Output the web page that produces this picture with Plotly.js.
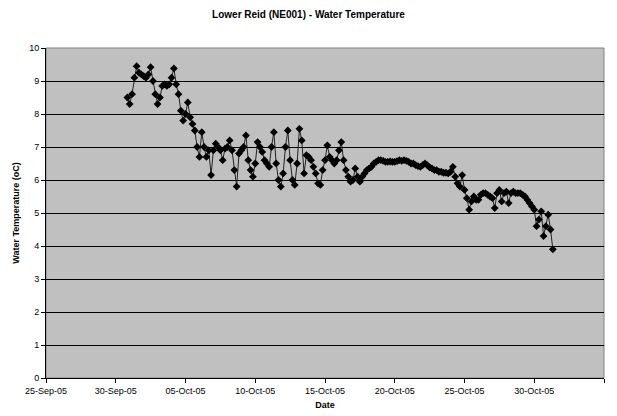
<!DOCTYPE html>
<html>
<head>
<meta charset="utf-8">
<script src="https://cdn.plot.ly/plotly-3.0.1.min.js"></script>
<style>html,body{margin:0;padding:0;background:#fff;}#chart{width:617px;height:416px;}</style>
</head>
<body>
<div id="chart"></div>
<script>
// Logger readings, 4-hourly, starting 30-Sep-05 20:00
var startTime = "2005-09-30T20:00:00Z";
var stepHours = 4;
var temperature = [
  8.5,
  8.3, 8.6, 9.1, 9.45, 9.25, 9.2,        // 1-Oct
  9.15, 9.1, 9.2, 9.42, 9.0, 8.6,        // 2-Oct
  8.3, 8.5, 8.85, 8.9, 8.85, 8.9,        // 3-Oct
  9.1, 9.38, 8.9, 8.6, 8.1, 7.8,         // 4-Oct
  8.0, 8.35, 7.9, 7.7, 7.5, 7.0,         // 5-Oct
  6.7, 7.45, 7.0, 6.7, 6.9, 6.15,        // 6-Oct
  6.9, 7.1, 7.0, 6.9, 6.6, 6.95,         // 7-Oct
  7.0, 7.2, 6.9, 6.3, 5.8, 6.8,          // 8-Oct
  6.9, 7.0, 7.35, 6.6, 6.3, 6.1,         // 9-Oct
  6.5, 7.15, 7.0, 6.85, 6.6, 6.5,        // 10-Oct
  6.4, 7.0, 7.45, 6.5, 6.0, 5.8,         // 11-Oct
  6.2, 7.0, 7.5, 6.6, 6.0, 5.85,         // 12-Oct
  6.5, 7.55, 7.2, 6.2, 6.75, 6.7,        // 13-Oct
  6.6, 6.4, 6.2, 5.9, 5.85, 6.3,         // 14-Oct
  6.6, 7.05, 6.7, 6.6, 6.5, 6.6,         // 15-Oct
  6.9, 7.15, 6.6, 6.3, 6.1, 5.95,        // 16-Oct
  6.0, 6.35, 6.1, 5.95, 6.1, 6.2,        // 17-Oct
  6.3, 6.35, 6.4, 6.5, 6.55, 6.6,        // 18-Oct
  6.6, 6.58, 6.55, 6.55, 6.56, 6.55,     // 19-Oct
  6.55, 6.57, 6.6, 6.58, 6.6, 6.58,      // 20-Oct
  6.55, 6.5, 6.5, 6.45, 6.42, 6.4,       // 21-Oct
  6.45, 6.5, 6.45, 6.38, 6.35, 6.3,      // 22-Oct
  6.3, 6.25, 6.25, 6.22, 6.22, 6.2,      // 23-Oct
  6.25, 6.4, 6.1, 5.9, 5.8, 6.15,        // 24-Oct
  5.7, 5.45, 5.1, 5.35, 5.5, 5.4,        // 25-Oct
  5.4, 5.55, 5.6, 5.6, 5.55, 5.5,        // 26-Oct
  5.45, 5.15, 5.6, 5.7, 5.35, 5.6,       // 27-Oct
  5.65, 5.3, 5.6, 5.65, 5.6, 5.6,        // 28-Oct
  5.6, 5.55, 5.5, 5.4, 5.3, 5.2,         // 29-Oct
  5.1, 4.6, 4.8, 5.05, 4.3, 4.6,         // 30-Oct
  4.95, 4.5, 3.9                         // 31-Oct
];
var xTickVals = ["2005-09-25","2005-09-30","2005-10-05","2005-10-10","2005-10-15","2005-10-20","2005-10-25","2005-10-30","2005-11-04"];

function pad(n){return (n<10?"0":"")+n;}
var t0 = Date.parse(startTime);
var times = temperature.map(function(_, i){
  var d = new Date(t0 + i*stepHours*3600*1000);
  return d.getUTCFullYear()+"-"+pad(d.getUTCMonth()+1)+"-"+pad(d.getUTCDate())+" "+pad(d.getUTCHours())+":00";
});

var font = "Liberation Sans, Arial, sans-serif";
var trace = {
  x: times, y: temperature, type: "scatter", mode: "lines+markers",
  line: {color: "#222222", width: 1},
  marker: {symbol: "diamond", size: 6, color: "#000000"},
  hoverinfo: "skip", showlegend: false
};
var layout = {
  width: 617, height: 416,
  margin: {l: 46, r: 13, t: 48, b: 38, pad: 0},
  paper_bgcolor: "#ffffff", plot_bgcolor: "#c0c0c0",
  font: {family: font, size: 9, color: "#000"},
  title: {text: "<b>Lower Reid (NE001) - Water Temperature</b>", x: 0.5, xanchor: "center", y: 0.965, yanchor: "middle", font: {family: font, size: 10, color: "#000"}},
  xaxis: {
    type: "date", range: ["2005-09-25", "2005-11-04"], tickvals: xTickVals, tickformat: "%d-%b-%y",
    showgrid: false, zeroline: false, showline: true, linecolor: "#000", linewidth: 1,
    ticks: "outside", ticklen: 4, tickcolor: "#000", tickfont: {size: 9, family: font},
    title: {text: "<b>Date</b>", font: {size: 9, family: font}, standoff: 6}, automargin: false
  },
  yaxis: {
    range: [0, 10], dtick: 1, tick0: 0, showgrid: true, gridcolor: "#000", gridwidth: 1,
    zeroline: false, showline: true, linecolor: "#000", linewidth: 1,
    ticks: "outside", ticklen: 4, tickcolor: "#000", tickfont: {size: 9, family: font},
    title: {text: "<b>Water Temperature (oC)</b>", font: {size: 9, family: font}, standoff: 8}, automargin: false
  },
  shapes: [{type: "rect", xref: "paper", yref: "paper", x0: 0, x1: 1, y0: 0, y1: 1, line: {color: "#808080", width: 1}, fillcolor: "rgba(0,0,0,0)", layer: "below"}]
};
Plotly.newPlot("chart", [trace], layout, {staticPlot: true, displayModeBar: false});
</script>
</body>
</html>
